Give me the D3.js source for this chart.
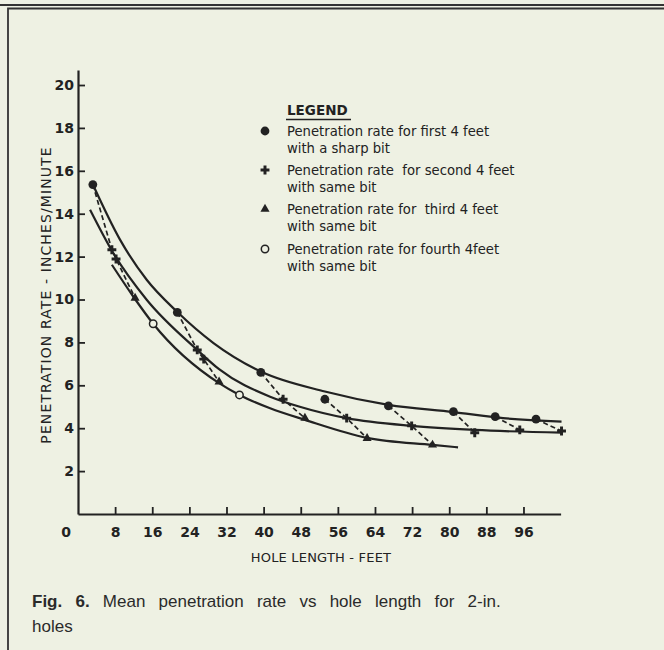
<!DOCTYPE html>
<html>
<head>
<meta charset="utf-8">
<script src="https://cdn.jsdelivr.net/npm/d3@7"></script>
<style>
html, body { margin: 0; padding: 0; background: #eef1e3; }
svg { display: block; }
</style>
</head>
<body>
<svg id="chart" width="664" height="650"></svg>
<script>
// values (hole length ft, rate in/min)
var xTicks = [8, 16, 24, 32, 40, 48, 56, 64, 72, 80, 88, 96];
var yTicks = [2, 4, 6, 8, 10, 12, 14, 16, 18, 20];

// fitted curves
var upperCurve = [[3.2,15.36],[9.05,12.79],[14.8,10.92],[21.3,9.44],[29.2,7.97],[39.4,6.64],[53.2,5.71],[66.9,5.09],[80.9,4.75],[91.6,4.47],[104.2,4.31]];
var middleCurve = [[2.6,14.19],[7.6,12.17],[14.8,9.99],[25.7,7.65],[30.4,6.75],[41.4,5.47],[47.8,5.0],[57.9,4.47],[71.9,4.11],[85.5,3.92],[104.2,3.79]];
var lowerCurve = [[7.3,11.62],[11.9,10.14],[16.2,8.87],[30.4,6.10],[34.8,5.55],[41.4,4.93],[48.9,4.39],[62.3,3.55],[76.4,3.22],[81.9,3.11]];

// measured points
var firstFour = [[3.2,15.36],[21.4,9.40],[39.4,6.60],[53.2,5.35],[66.9,5.04],[80.9,4.77],[89.9,4.54],[98.7,4.42]];
var secondFour = [[7.3,12.32],[8.2,11.89],[25.7,7.65],[27.1,7.22],[44.2,5.35],[57.9,4.47],[71.9,4.11],[85.5,3.79],[95.2,3.92],[104.2,3.87]];
var thirdFour = [[12.3,10.07],[30.4,6.16],[48.9,4.47],[62.3,3.53],[76.4,3.22]];
var fourthFour = [[16.2,8.87],[34.8,5.55]];

// dashed runs, one per bit
var bitRuns = [
  [[3.2,15.36],[7.3,12.32],[8.2,11.89],[12.3,10.07]],
  [[21.4,9.40],[25.7,7.65],[27.1,7.22],[30.4,6.16]],
  [[39.4,6.60],[44.2,5.35],[48.9,4.47]],
  [[53.2,5.35],[57.9,4.47],[62.3,3.53]],
  [[66.9,5.04],[71.9,4.11],[76.4,3.22]],
  [[80.9,4.77],[85.5,3.79]],
  [[89.9,4.54],[95.2,3.92]],
  [[98.7,4.42],[104.2,3.87]]
];

var legendItems = [
  {sym: "dot",   lines: ["Penetration rate for first 4 feet", "with a sharp bit"]},
  {sym: "plus",  lines: ["Penetration rate  for second 4 feet", "with same bit"]},
  {sym: "tri",   lines: ["Penetration rate for  third 4 feet", "with same bit"]},
  {sym: "ring",  lines: ["Penetration rate for fourth 4feet", "with same bit"]}
];

var ink = "#222";
var paper = "#eef1e3";
var svg = d3.select("#chart");

svg.append("rect").attr("width", 664).attr("height", 650).attr("fill", paper);

// page rule and frame
svg.append("line").attr("x1", 0).attr("x2", 664).attr("y1", 5).attr("y2", 5)
  .attr("stroke", "#333").attr("stroke-width", 2);
svg.append("path").attr("d", "M8,650V8.5H664")
  .attr("fill", "none").attr("stroke", "#333").attr("stroke-width", 1.8);

var x = d3.scaleLinear().domain([0, 104]).range([78, 560.6]);
var y = d3.scaleLinear().domain([0, 20.7]).range([514, 70]);

var numFont = "DejaVu Sans";

var xAxis = svg.append("g")
  .attr("transform", "translate(0," + y(0) + ")")
  .call(d3.axisBottom(x).tickValues(xTicks).tickSize(-7).tickSizeOuter(0).tickPadding(13));
var yAxis = svg.append("g")
  .attr("transform", "translate(" + x(0) + ",0)")
  .call(d3.axisLeft(y).tickValues(yTicks).tickSize(-7).tickSizeOuter(0).tickPadding(4));

[xAxis, yAxis].forEach(function(a){
  a.select(".domain").attr("stroke", ink).attr("stroke-width", 2.2);
  a.selectAll(".tick line").attr("stroke", ink).attr("stroke-width", 1.8);
  a.selectAll(".tick text").attr("fill", ink)
    .style("font-family", numFont).style("font-size", "14px").style("font-weight", "bold");
});

svg.append("text").attr("x", x(0) - 12).attr("y", 536.5)
  .attr("text-anchor", "middle").attr("fill", ink)
  .style("font-family", numFont).style("font-size", "14px").style("font-weight", "bold")
  .text("0");

// axis titles
svg.append("text")
  .attr("transform", "translate(51,295) rotate(-90)")
  .attr("text-anchor", "middle").attr("fill", ink)
  .style("font-family", numFont).style("font-size", "14px").style("letter-spacing", "1.1px")
  .text("PENETRATION RATE - INCHES/MINUTE");
svg.append("text")
  .attr("x", 321).attr("y", 562)
  .attr("text-anchor", "middle").attr("fill", ink)
  .style("font-family", numFont).style("font-size", "13px").style("letter-spacing", "0.2px")
  .text("HOLE LENGTH - FEET");

// curves
var line = d3.line().x(function(d){ return x(d[0]); }).y(function(d){ return y(d[1]); })
  .curve(d3.curveMonotoneX);
[upperCurve, middleCurve, lowerCurve].forEach(function(c){
  svg.append("path").datum(c).attr("d", line)
    .attr("fill", "none").attr("stroke", ink).attr("stroke-width", 2.2);
});

var straight = d3.line().x(function(d){ return x(d[0]); }).y(function(d){ return y(d[1]); });
svg.selectAll(".run").data(bitRuns).enter().append("path")
  .attr("class", "run").attr("d", straight)
  .attr("fill", "none").attr("stroke", ink).attr("stroke-width", 1.7)
  .attr("stroke-dasharray", "5,3");

// marker drawing
function marker(g, sym){
  if (sym === "dot") {
    g.append("circle").attr("r", 4.4).attr("fill", ink);
  } else if (sym === "ring") {
    g.append("circle").attr("r", 3.7).attr("fill", paper).attr("stroke", ink).attr("stroke-width", 1.5);
  } else if (sym === "plus") {
    g.append("path").attr("d", d3.symbol().type(d3.symbolCross).size(44)).attr("fill", ink);
  } else {
    g.append("path").attr("d", d3.symbol().type(d3.symbolTriangle).size(36)).attr("fill", ink);
  }
}

function plotPoints(data, sym){
  svg.selectAll(null).data(data).enter().append("g")
    .attr("transform", function(d){ return "translate(" + x(d[0]) + "," + y(d[1]) + ")"; })
    .each(function(){ marker(d3.select(this), sym); });
}
plotPoints(fourthFour, "ring");
plotPoints(thirdFour, "tri");
plotPoints(secondFour, "plus");
plotPoints(firstFour, "dot");

// legend
var legFont = "DejaVu Sans";
var leg = svg.append("g");
leg.append("text").attr("x", 287).attr("y", 115).attr("fill", ink)
  .style("font-family", legFont).style("font-size", "13.5px").style("font-weight", "bold")
  .text("LEGEND");
leg.append("line").attr("x1", 286).attr("x2", 351).attr("y1", 119.5).attr("y2", 119.5)
  .attr("stroke", ink).attr("stroke-width", 1.5);

var rowY = [131, 170, 209, 249];
legendItems.forEach(function(item, i){
  var g = leg.append("g").attr("transform", "translate(0," + rowY[i] + ")");
  marker(g.append("g").attr("transform", "translate(265,0)"), item.sym);
  item.lines.forEach(function(t, j){
    g.append("text").attr("x", 287).attr("y", 5 + j * 17).attr("fill", ink)
      .style("font-family", legFont).style("font-size", "13.2px")
      .style("white-space", "pre")
      .text(t);
  });
});

// caption
var cap = svg.append("text").attr("x", 32).attr("y", 607).attr("fill", "#2a2a2a")
  .style("font-family", "Liberation Sans, Arial, sans-serif").style("font-size", "17px")
  .style("word-spacing", "8.5px");
cap.append("tspan").style("font-weight", "bold").text("Fig. 6.");
cap.append("tspan").text(" Mean penetration rate vs hole length for 2-in.");
svg.append("text").attr("x", 32).attr("y", 632).attr("fill", "#2a2a2a")
  .style("font-family", "Liberation Sans, Arial, sans-serif").style("font-size", "17px")
  .text("holes");
</script>
</body>
</html>
